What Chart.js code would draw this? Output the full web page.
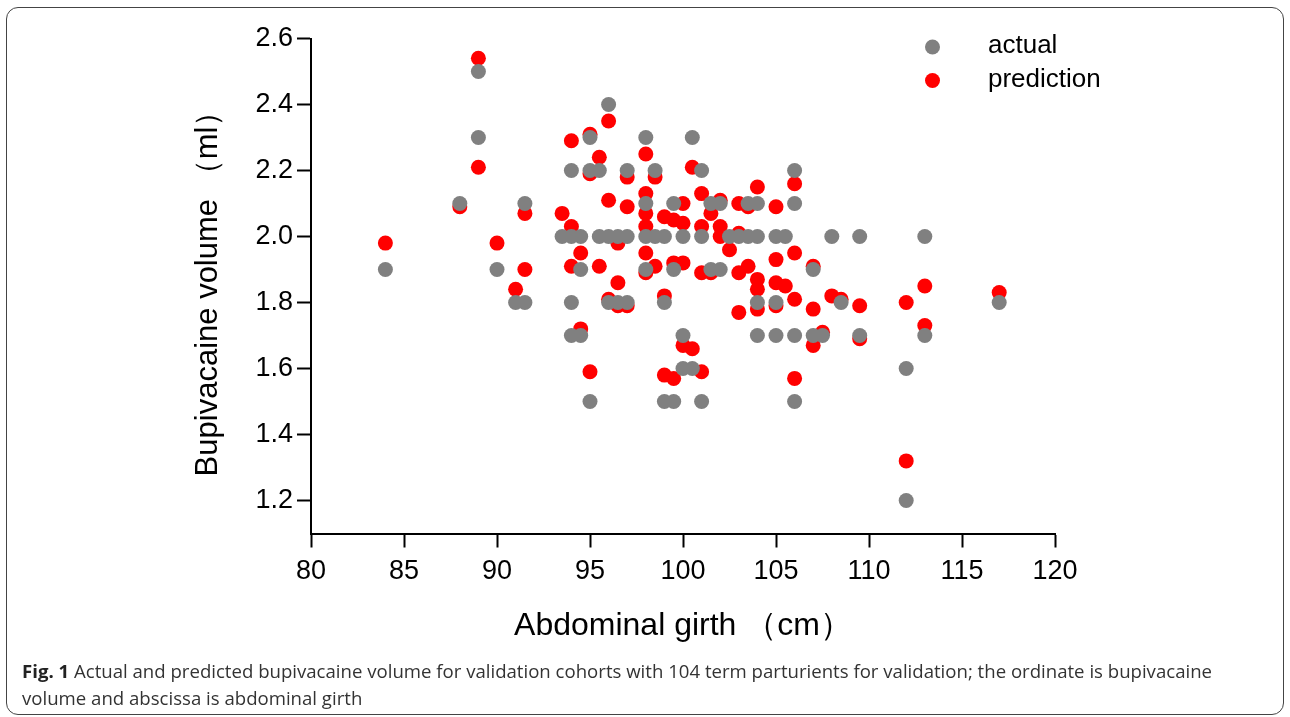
<!DOCTYPE html>
<html>
<head>
<meta charset="utf-8">
<script src="https://cdn.jsdelivr.net/npm/chart.js@4/dist/chart.umd.min.js"></script>
<style>
html,body{margin:0;padding:0;background:#fff;width:1290px;height:717px;overflow:hidden;}
#card{position:absolute;left:6px;top:7px;width:1278px;height:708px;border:1.5px solid #444;border-radius:12px;box-sizing:border-box;}
#wrap{position:absolute;left:0;top:0;width:1290px;height:717px;}
#cap{position:absolute;left:22px;top:657px;font-family:'Open Sans',sans-serif;font-size:18.6px;line-height:27px;color:#333;white-space:nowrap;}
#cap b{color:#222;}
</style>
</head>
<body>
<div id="card"></div>
<div id="wrap"><canvas id="c" width="1290" height="717"></canvas></div>
<div id="cap"><b>Fig. 1</b> Actual and predicted bupivacaine volume for validation cohorts with 104 term parturients for validation; the ordinate is bupivacaine<br>volume and abscissa is abdominal girth</div>
<script>
// ---- data ----
const seriesLabels = ["actual", "prediction"];
const seriesColors = ["#808080", "#ff0000"];

const actualX = [84, 88, 89, 89, 90, 91, 91.5, 91.5, 93.5, 94, 94, 94, 94, 94.5, 94.5, 94.5,
  95, 95, 95, 95.5, 95.5, 96, 96, 96, 96.5, 96.5, 97, 97, 97, 98, 98, 98, 98, 98.5, 98.5,
  99, 99, 99, 99.5, 99.5, 99.5, 100, 100, 100, 100.5, 100.5, 101, 101, 101, 101.5, 101.5,
  102, 102, 102.5, 103, 103.5, 103.5, 104, 104, 104, 104, 105, 105, 105, 105.5,
  106, 106, 106, 106, 107, 107, 107.5, 108, 108.5, 109.5, 109.5, 112, 112, 113, 113, 117];
const actualY = [1.9, 2.1, 2.5, 2.3, 1.9, 1.8, 2.1, 1.8, 2.0, 2.2, 2.0, 1.8, 1.7, 2.0, 1.9, 1.7,
  2.3, 2.2, 1.5, 2.2, 2.0, 2.4, 2.0, 1.8, 2.0, 1.8, 2.2, 2.0, 1.8, 2.3, 2.1, 2.0, 1.9, 2.2, 2.0,
  2.0, 1.8, 1.5, 2.1, 1.9, 1.5, 2.0, 1.7, 1.6, 2.3, 1.6, 2.2, 2.0, 1.5, 2.1, 1.9,
  2.1, 1.9, 2.0, 2.0, 2.1, 2.0, 2.1, 2.0, 1.8, 1.7, 2.0, 1.8, 1.7, 2.0,
  2.2, 2.1, 1.7, 1.5, 1.9, 1.7, 1.7, 2.0, 1.8, 2.0, 1.7, 1.6, 1.2, 2.0, 1.7, 1.8];

const predX = [84, 88, 89, 89, 90, 91, 91.5, 91.5, 93.5, 94, 94, 94, 94.5, 94.5,
  95, 95, 95, 95.5, 95.5, 96, 96, 96, 96.5, 96.5, 96.5, 97, 97, 97,
  98, 98, 98, 98, 98, 98, 98.5, 98.5, 99, 99, 99, 99.5, 99.5, 99.5,
  100, 100, 100, 100, 100.5, 100.5, 101, 101, 101, 101, 101.5, 101.5,
  102, 102, 102, 102.5, 103, 103, 103, 103, 103.5, 103.5,
  104, 104, 104, 104, 105, 105, 105, 105, 105.5, 106, 106, 106, 106,
  107, 107, 107, 107.5, 108, 108.5, 109.5, 109.5, 112, 112, 113, 113, 117];
const predY = [1.98, 2.09, 2.54, 2.21, 1.98, 1.84, 2.07, 1.90, 2.07, 2.29, 2.03, 1.91, 1.95, 1.72,
  2.31, 2.19, 1.59, 2.24, 1.91, 2.35, 2.11, 1.81, 1.98, 1.86, 1.79, 2.18, 2.09, 1.79,
  2.25, 2.13, 2.07, 2.03, 1.95, 1.89, 2.18, 1.91, 2.06, 1.82, 1.58, 2.05, 1.92, 1.57,
  2.10, 2.04, 1.92, 1.67, 2.21, 1.66, 2.13, 2.03, 1.89, 1.59, 2.07, 1.89,
  2.11, 2.03, 2.00, 1.96, 2.10, 2.01, 1.89, 1.77, 2.09, 1.91,
  2.15, 1.87, 1.84, 1.78, 2.09, 1.93, 1.86, 1.79, 1.85, 2.16, 1.95, 1.81, 1.57,
  1.91, 1.78, 1.67, 1.71, 1.82, 1.81, 1.79, 1.69, 1.80, 1.32, 1.85, 1.73, 1.83];

const xTicks = [80, 85, 90, 95, 100, 105, 110, 115, 120];
const yTicks = [1.2, 1.4, 1.6, 1.8, 2.0, 2.2, 2.4, 2.6];
const xTitle = "Abdominal girth （cm）";
const yTitle = "Bupivacaine volume （ml）";

// ---- chart ----
const FONT = "'Liberation Sans', Arial, sans-serif";
const toPts = (xs, ys) => xs.map((x, i) => ({x: x, y: ys[i]}));

const legendPlugin = {
  id: 'sideLegend',
  afterDraw(chart) {
    const ctx = chart.ctx;
    const rows = [47, 80.5];
    ctx.save();
    chart.data.datasets.forEach((ds, i) => {
      ctx.fillStyle = ds.backgroundColor;
      ctx.beginPath();
      ctx.arc(932.5, rows[i], 7.5, 0, Math.PI * 2);
      ctx.fill();
      ctx.fillStyle = '#000';
      ctx.font = "26px " + FONT;
      ctx.textBaseline = 'middle';
      ctx.textAlign = 'left';
      ctx.fillText(ds.label, 988, rows[i] - 1);
    });
    ctx.restore();
  }
};

new Chart(document.getElementById('c'), {
  type: 'scatter',
  data: {
    datasets: [
      {label: seriesLabels[0], data: toPts(actualX, actualY), backgroundColor: seriesColors[0],
       borderWidth: 0, pointRadius: 7.5, pointHoverRadius: 7.5},
      {label: seriesLabels[1], data: toPts(predX, predY), backgroundColor: seriesColors[1],
       borderWidth: 0, pointRadius: 7.5, pointHoverRadius: 7.5}
    ]
  },
  options: {
    responsive: false,
    animation: false,
    events: [],
    layout: {padding: {left: 0, top: 38.5, right: 235, bottom: 71.5}},
    plugins: {legend: {display: false}, tooltip: {enabled: false}},
    scales: {
      x: {
        type: 'linear', min: 80, max: 120,
        afterBuildTicks: (s) => { s.ticks = xTicks.map(v => ({value: v})); },
        afterFit: (s) => { s.height = 112; },
        grid: {display: true, drawOnChartArea: false, drawTicks: true, tickLength: 14, tickWidth: 2, tickColor: '#000'},
        border: {display: true, color: '#000', width: 2},
        ticks: {color: '#000', padding: 8, font: {family: FONT, size: 27}, maxRotation: 0, autoSkip: false},
        title: {display: true, text: xTitle, color: '#000', font: {family: FONT, size: 32}, padding: {top: 0, bottom: 0}}
      },
      y: {
        type: 'linear', min: 1.1, max: 2.6,
        afterBuildTicks: (s) => { s.ticks = yTicks.map(v => ({value: v})); },
        afterFit: (s) => { s.width = 311; },
        grid: {display: true, drawOnChartArea: false, drawTicks: true, tickLength: 14, tickWidth: 2, tickColor: '#000'},
        border: {display: true, color: '#000', width: 2},
        ticks: {color: '#000', padding: 4, font: {family: FONT, size: 27}, callback: (v) => Number(v).toFixed(1), autoSkip: false},
        title: {display: true, text: yTitle, color: '#000', font: {family: FONT, size: 31}, padding: {top: 190, bottom: 0}}
      }
    }
  },
  plugins: [legendPlugin]
});
</script>
</body>
</html>
